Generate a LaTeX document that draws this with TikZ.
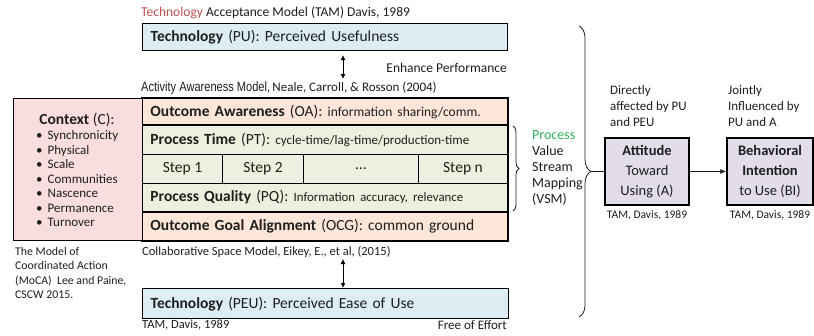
\documentclass[tikz,border=0pt]{standalone}
\usepackage{fontspec}
\setmainfont{Carlito}
\newfontfamily\narrowfont[FakeStretch=0.82]{Liberation Sans}
\usetikzlibrary{positioning,decorations.pathreplacing,arrows.meta}

\definecolor{ink}{HTML}{1E1E1E}
\definecolor{techblue}{HTML}{DCEDF4}
\definecolor{oaorange}{HTML}{FCE6D8}
\definecolor{vsmgreen}{HTML}{EBF1DE}
\definecolor{ctxpink}{HTML}{F9DEDD}
\definecolor{tampurple}{HTML}{E3DDEB}
\definecolor{techred}{HTML}{C0504D}
\definecolor{procgreen}{HTML}{2FB15A}

\newcommand\setsz[2]{\fontsize{#1}{#2}\selectfont}

\tikzset{
  outerbox/.style={draw=black, line width=1.4pt, anchor=north west, inner xsep=8pt, inner ysep=0pt, align=left, text=ink},
  rowbox/.style={draw=black, line width=0.9pt, anchor=north west, inner xsep=8pt, inner ysep=0pt,
    text width=349pt, align=left, text=ink, font=\setsz{15.5}{17}},
  stepcell/.style={draw=black, line width=0.9pt, anchor=north west, inner sep=0pt, fill=vsmgreen,
    minimum height=29pt, text=ink, font=\setsz{15.5}{17}},
  tambox/.style={draw=black, line width=1.4pt, fill=tampurple, minimum height=67pt, inner sep=0pt,
    align=center, text=ink, font=\setsz{14.5}{20}},
  note/.style={inner sep=0pt, text=ink, align=left},
  dblarrow/.style={{Latex[length=5pt,width=5pt]}-{Latex[length=5pt,width=5pt]}, line width=0.9pt},
  bracket/.style={decorate, line width=0.8pt, draw=ink}
}

\begin{document}
\begin{tikzpicture}[x=1pt,y=-1pt]
  \useasboundingbox (0,0) rectangle (814,335);

  % TAM on top
  \node[note, anchor=west, font=\setsz{13.5}{15}] (tamtitle) at (141,13)
    {\textcolor{techred}{Technology} Acceptance Model (TAM) Davis, 1989};
  \node[outerbox, fill=techblue, minimum height=27pt, text width=349pt, font=\setsz{15.5}{17}] (pu) at (142,23)
    {\textbf{Technology} (PU): Perceived Usefulness};
  \node[note, anchor=east, font=\setsz{13.5}{15}] (enhance) at (507,68) {Enhance Performance};
  \coordinate (puarrtop) at (343,55);
  \coordinate (puarrbot) at (343,79);
  \draw[dblarrow] (puarrtop) -- (puarrbot);
  \node[note, anchor=west] (actmodel) at (141,88)
    {{\narrowfont\setsz{13.5}{15}Activity Awareness Model,} {\setsz{13}{15}Neale, Carroll, \& Rosson (2004)}};

  % activity awareness rows
  \node[rowbox, fill=oaorange, minimum height=27pt] (oa) at (142,98)
    {\textbf{Outcome Awareness} (OA): {\setsz{13.5}{15}information sharing/comm.}};
  \node[rowbox, fill=vsmgreen, minimum height=29pt] (pt) at (142,125)
    {\textbf{Process Time} (PT): {\setsz{13}{15}cycle-time/lag-time/production-time}};
  \node[stepcell, minimum width=80pt] (step1) at (142,154) {Step 1};
  \node[stepcell, minimum width=81pt] (step2) at (222,154) {Step 2};
  \node[stepcell, minimum width=115pt] (stepdots) at (303,154) {...};
  \node[stepcell, minimum width=89pt] (stepn) at (418,154) {Step n};
  \node[rowbox, fill=vsmgreen, minimum height=28pt] (pq) at (142,183)
    {\textbf{Process Quality} (PQ): {\setsz{12.8}{15}Information accuracy, relevance}};
  \node[rowbox, fill=oaorange, minimum height=29pt] (ocg) at (142,211)
    {\textbf{Outcome Goal Alignment} (OCG): common ground};
  \draw[line width=1.4pt] (pt.north west) rectangle (pq.south east);
  \draw[line width=1.4pt] (oa.north west) rectangle (ocg.south east);

  % context
  \node[draw=black, line width=1.4pt, fill=ctxpink, anchor=north west, minimum width=129pt, minimum height=142pt] (ctx) at (13,98) {};
  \node[note, font=\setsz{15.5}{17}] (ctxtitle) at (77,119.5) {\textbf{Context} (C):};
  \node[note, anchor=north west, font=\setsz{13}{14.5}] (ctxlist) at (36,130.5)
    {\textbullet\hspace{5pt}Synchronicity\\ \textbullet\hspace{5pt}Physical\\ \textbullet\hspace{5pt}Scale\\
     \textbullet\hspace{5pt}Communities\\ \textbullet\hspace{5pt}Nascence\\ \textbullet\hspace{5pt}Permanence\\
     \textbullet\hspace{5pt}Turnover};
  \node[note, anchor=north west, font=\setsz{11.8}{14.5}] (moca) at (15,247)
    {The Model of\\ Coordinated Action\\ (MoCA)\ \ Lee and Paine,\\ CSCW 2015.};

  % TAM at the bottom
  \node[note, anchor=west, font=\setsz{12.5}{14}] (collab) at (142,252) {Collaborative Space Model, Eikey, E., et al, (2015)};
  \node[outerbox, fill=techblue, minimum height=30pt, text width=350pt, font=\setsz{15.5}{17}] (peu) at (142,288)
    {\textbf{Technology} (PEU): Perceived Ease of Use};
  \coordinate (peuarr) at (343,259);
  \draw[dblarrow] (peuarr) -- (peuarr |- peu.north);
  \node[note, anchor=west, font=\setsz{12.5}{14}] (peutam) at (142,325) {TAM, Davis, 1989};
  \node[note, anchor=east, font=\setsz{13}{14}] (effort) at (507,325) {Free of Effort};

  % value stream mapping
  \draw[bracket, decoration={brace, amplitude=6pt}] (513,126) -- (513,211);
  \node[note, anchor=north west, font=\setsz{14}{16}] (vsm) at (532,130)
    {\textcolor{procgreen}{Process}\\ Value\\ Stream\\ Mapping\\ (VSM)};

  % attitude and intention
  \draw[bracket, decoration={brace, amplitude=12pt}] (579,26) -- (579,317);
  \coordinate (bigtip) at (591,171.5);
  \node[tambox, minimum width=84pt] (att) at (647,171.5)
    {\textbf{Attitude}\\ Toward\\ Using (A)};
  \node[tambox, minimum width=86pt] (bi) at (770,171.5)
    {\textbf{Behavioral}\\ \textbf{Intention}\\ to Use (BI)};
  \draw[line width=0.8pt, draw=ink] (bigtip) -- (att.west);
  \draw[line width=0.8pt, draw=ink, -{Latex[length=6pt,width=5pt]}] (att) -- (bi);
  \node[note, below=5pt of att, font=\setsz{11.5}{14}] (atttam) {TAM, Davis, 1989};
  \node[note, below=5pt of bi, font=\setsz{11.5}{14}] (bitam) {TAM, Davis, 1989};
  \node[note, anchor=north west, font=\setsz{13}{16}] (directly) at (610,85)
    {Directly\\ affected by PU\\ and PEU};
  \node[note, anchor=north west, font=\setsz{13}{16}] (jointly) at (728,85)
    {Jointly\\ Influenced by\\ PU and A};
\end{tikzpicture}
\end{document}
